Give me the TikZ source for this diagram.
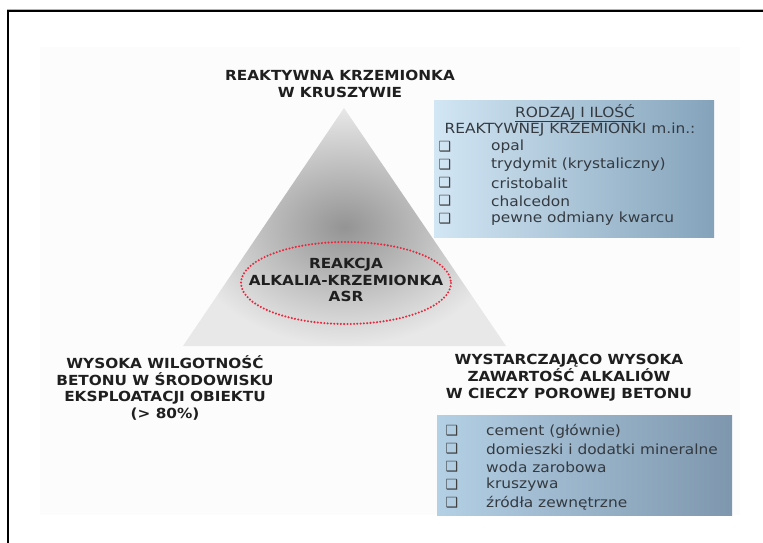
\documentclass[tikz,border=0pt]{standalone}
\usepackage{fontspec}
\setmainfont{DejaVu Sans}
\newfontfamily\tfont[FakeStretch=1.1]{DejaVu Sans}
\definecolor{boxL}{HTML}{D2E6F4}
\definecolor{boxR}{HTML}{84A3BB}
\definecolor{boxLb}{HTML}{B4D0E5}
\definecolor{boxRb}{HTML}{7E97AE}
\definecolor{dotred}{HTML}{E8283C}
\definecolor{txt}{HTML}{343A40}
\tikzset{
  title/.style={font=\tfont\bfseries\fontsize{13.9}{16.8}\selectfont, align=center, text=black!88, inner sep=0pt},
  itemtxt/.style={font=\tfont\fontsize{14}{17}\selectfont, anchor=west, text=txt, inner sep=0pt},
  chk/.style={font=\fontsize{14}{14}\selectfont, text=black!75, inner sep=0pt},
  headtxt/.style={font=\tfont\fontsize{14}{17}\selectfont, text=txt, inner sep=0pt},
}
\begin{document}
\begin{tikzpicture}[x=1pt,y=-1pt]
\useasboundingbox (0,0) rectangle (763,543);
\fill[white] (0,0) rectangle (763,543);
% faint background panel
\fill[black!1] (40,47) rectangle (740,515);
% frame
\coordinate (fbl) at (7.7,543);
\coordinate (ftl) at (7.7,11);
\coordinate (ftr) at (763,11);
\coordinate (gtl) at (7,9);
\coordinate (gtr) at (763,9);
\draw[black!30, line width=0.8pt] (gtl) -- (gtr);
\draw[black, line width=2pt] (fbl) -- (ftl) -- (ftr);
% triangle
\coordinate (apex) at (344,108);
\coordinate (bl) at (183,346);
\coordinate (br) at (506,346);
\shade[inner color=black!42, outer color=black!9] (apex) -- (br) -- (bl) -- cycle;
% ellipse
\coordinate (ec) at (346,283);
\draw[dotred, line width=2.3pt, line cap=round, dash pattern=on 0pt off 3.3pt] (ec) ellipse [x radius=105, y radius=41];
\node[title] (asr) at (346,280) {REAKCJA\\ALKALIA-KRZEMIONKA\\ASR};
% top title
\node[title] (top) at (340,84) {REAKTYWNA KRZEMIONKA\\W KRUSZYWIE};
% bottom-left
\node[title] (blt) at (165,388) {WYSOKA WILGOTNOŚĆ\\BETONU W ŚRODOWISKU\\EKSPLOATACJI OBIEKTU\\(> 80\%)};
% bottom-right
\node[title] (brt) at (569,378) {WYSTARCZAJĄCO WYSOKA\\ZAWARTOŚĆ ALKALIÓW\\W CIECZY POROWEJ BETONU};
% top box
\shade[left color=boxL, right color=boxR] (434,100) rectangle (714,237);
\node[headtxt] (h1) at (575,113) {\underline{RODZAJ I ILOŚĆ}};
\node[headtxt] (h2) at (570,130) {REAKTYWNEJ KRZEMIONKI m.in.:};
\foreach \y/\t [count=\i] in {147/opal,165/trydymit (krystaliczny),183/cristobalit,201/chalcedon,219/pewne odmiany kwarcu}{
  \node[chk] (ca\i) at (445,\y) {❑};
  \node[itemtxt] (ta\i) at (491,\y) {\t};
}
% bottom box
\shade[left color=boxLb, right color=boxRb] (437,415) rectangle (732,515);
\foreach \y/\t [count=\i] in {431/cement (głównie),449/domieszki i dodatki mineralne,467/woda zarobowa,485/kruszywa,503/źródła zewnętrzne}{
  \node[chk] (cb\i) at (452,\y) {❑};
  \node[itemtxt] (tb\i) at (486,\y) {\t};
}
\end{tikzpicture}
\end{document}
